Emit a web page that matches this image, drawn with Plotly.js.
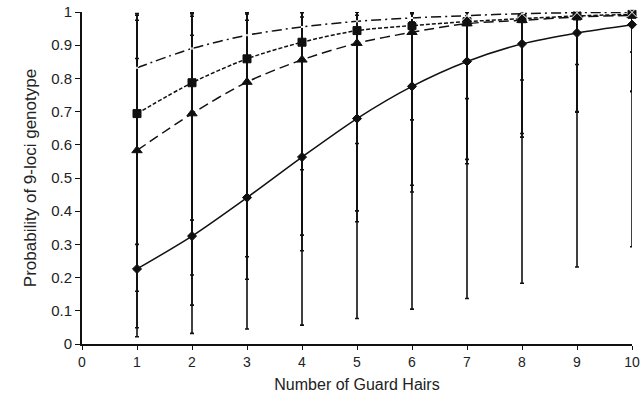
<!DOCTYPE html>
<html>
<head>
<meta charset="utf-8">
<script src="https://cdn.plot.ly/plotly-3.0.1.min.js"></script>
<style>
  html, body { margin: 0; padding: 0; background: #fff; }
  #chart { width: 640px; height: 400px; }
</style>
</head>
<body>
<div id="chart"></div>
<script>
// Number of guard hairs
const hairs = [1, 2, 3, 4, 5, 6, 7, 8, 9, 10];

// Series with open X markers (dash-dot line)
const seriesX      = [0.832, 0.890, 0.930, 0.955, 0.972, 0.982, 0.989, 0.995, 0.998, 0.999];
const seriesXLow   = [0.300, 0.373, 0.441, 0.525, 0.604, 0.675, 0.739, 0.795, 0.842, 0.879];
const seriesXHigh  = [0.995, 0.998, 1.000, 1.000, 1.000, 1.000, 1.000, 1.000, 1.000, 1.000];

// Series with square markers (short dash line)
const seriesSq     = [0.694, 0.787, 0.859, 0.909, 0.944, 0.959, 0.971, 0.980, 0.988, 0.993];
const seriesSqLow  = [0.159, 0.208, 0.263, 0.328, 0.401, 0.478, 0.556, 0.634, 0.700, 0.762];
const seriesSqHigh = [0.990, 0.995, 0.998, 1.000, 1.000, 1.000, 1.000, 1.000, 1.000, 1.000];

// Series with triangle markers (long dash line)
const seriesTri     = [0.583, 0.694, 0.789, 0.856, 0.906, 0.939, 0.965, 0.975, 0.985, 0.990];
const seriesTriLow  = [0.049, 0.117, 0.195, 0.281, 0.368, 0.458, 0.543, 0.623, 0.698, 0.760];
const seriesTriHigh = [0.975, 0.987, 0.994, 0.998, 1.000, 1.000, 1.000, 1.000, 1.000, 1.000];

// Series with diamond markers (solid line)
const seriesDia     = [0.226, 0.325, 0.441, 0.563, 0.679, 0.776, 0.851, 0.904, 0.937, 0.962];
const seriesDiaLow  = [0.022, 0.032, 0.045, 0.057, 0.077, 0.105, 0.137, 0.183, 0.232, 0.293];
const seriesDiaHigh = [0.860, 0.930, 0.975, 0.985, 0.990, 0.995, 0.998, 1.000, 1.000, 1.000];

// Axis ticks
const xTicks = [0, 1, 2, 3, 4, 5, 6, 7, 8, 9, 10];
const yTicks = [0, 0.1, 0.2, 0.3, 0.4, 0.5, 0.6, 0.7, 0.8, 0.9, 1];
const yTickText = ['0', '0.1', '0.2', '0.3', '0.4', '0.5', '0.6', '0.7', '0.8', '0.9', '1'];

function errs(mean, low, high) {
  return {
    type: 'data', symmetric: false, visible: true,
    array: mean.map((m, i) => Math.max(0, high[i] - m)),
    arrayminus: mean.map((m, i) => Math.max(0, m - low[i])),
    color: '#111', thickness: 1.6, width: 2
  };
}

function trace(mean, low, high, dash, symbol, size, mcolor, lcolor) {
  return {
    x: hairs, y: mean, type: 'scatter', mode: 'lines+markers',
    cliponaxis: false,
    line: { color: '#111', width: 1.5, dash: dash, shape: 'spline', smoothing: 0.8 },
    marker: { symbol: symbol, size: size, color: mcolor, line: { color: lcolor, width: 1 } },
    error_y: errs(mean, low, high),
    showlegend: false
  };
}

const data = [
  trace(seriesDia, seriesDiaLow, seriesDiaHigh, 'solid', 'diamond', 7, '#111', '#111'),
  trace(seriesTri, seriesTriLow, seriesTriHigh, '10px,5px', 'triangle-up', 9, '#111', '#111'),
  trace(seriesSq, seriesSqLow, seriesSqHigh, '4px,2px', 'square', 8, '#111', '#111'),
  trace(seriesX, seriesXLow, seriesXHigh, '10px,4px,2px,4px', 'x-thin-open', 10, '#fff', '#333')
];

const layout = {
  width: 640, height: 400,
  margin: { l: 82, r: 8, t: 12, b: 56 },
  paper_bgcolor: '#fff', plot_bgcolor: '#fff',
  font: { family: 'Liberation Sans, Arial, sans-serif', size: 14, color: '#222' },
  xaxis: {
    range: [0, 10], tickvals: xTicks, ticktext: xTicks.map(String),
    showgrid: false, zeroline: false, showline: true, linecolor: '#111', linewidth: 2,
    ticks: 'outside', ticklen: 4, tickcolor: '#111', tickwidth: 1,
    tickfont: { size: 14, color: '#222' },
    title: { text: 'Number of Guard Hairs', font: { size: 16, color: '#222' }, standoff: 10 }
  },
  yaxis: {
    range: [0, 1], tickvals: yTicks, ticktext: yTickText,
    showgrid: false, zeroline: false, showline: true, linecolor: '#111', linewidth: 2,
    ticks: 'outside', ticklen: 5, tickcolor: '#111', tickwidth: 1,
    tickfont: { size: 15, color: '#222' },
    title: { text: 'Probability of 9-loci genotype', font: { size: 17, color: '#222' }, standoff: 10 }
  }
};

Plotly.newPlot('chart', data, layout, { displayModeBar: false, staticPlot: true });
</script>
</body>
</html>
